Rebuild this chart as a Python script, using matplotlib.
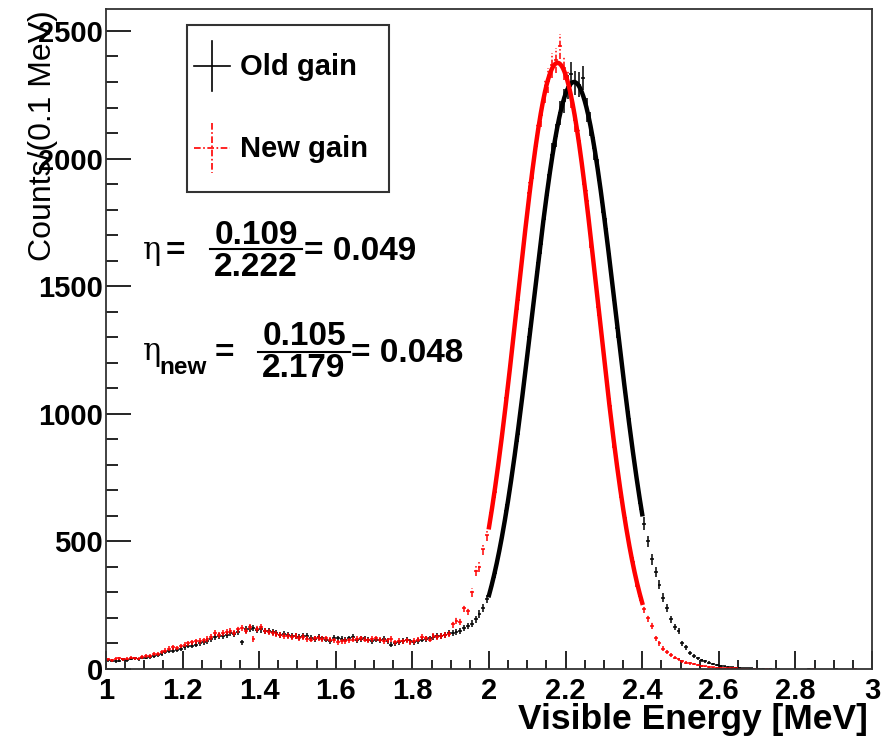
import numpy as np
import matplotlib
matplotlib.use("Agg")
import matplotlib.pyplot as plt
from matplotlib.lines import Line2D
from matplotlib.patches import Rectangle

# %% data: 200 bins of 0.01 MeV from 1 to 3 MeV
bin_lo, bin_w = 1.0, 0.01

old_counts = [
    35, 32, 30, 33, 38, 35, 40, 42, 38, 45,
    45, 48, 52, 55, 60, 65, 70, 72, 75, 80,
    85, 90, 92, 95, 100, 105, 110, 118, 125, 128,
    130, 135, 140, 138, 145, 105, 155, 158, 160, 152,
    155, 150, 148, 145, 140, 135, 138, 132, 130, 128,
    125, 128, 130, 122, 118, 125, 120, 115, 110, 122,
    120, 118, 115, 120, 125, 112, 118, 120, 115, 110,
    115, 112, 118, 110, 95, 100, 105, 110, 115, 108,
    105, 110, 115, 118, 120, 125, 128, 130, 135, 140,
    140, 145, 150, 160, 168, 178, 195, 215, 240, 275,
    320, 375, 455, 520, 620, 705, 820, 920, 1050, 1160,
    1300, 1415, 1555, 1665, 1800, 1895, 2015, 2090, 2180, 2225,
    2280, 2330, 2295, 2290, 2316, 2190, 2135, 2040, 1955, 1830,
    1725, 1590, 1480, 1335, 1225, 1085, 980, 850, 760, 650,
    570, 500, 430, 380, 330, 280, 240, 195, 165, 150,
    100, 85, 62, 52, 42, 35, 30, 25, 20, 15,
    12, 10, 8, 6, 5, 4, 3, 2, 2, 1,
    1, 1, 0, 1, 0, 1, 0, 0, 0, 0,
    0, 0, 0, 1, 0, 0, 0, 0, 0, 0,
    1, 0, 0, 0, 0, 0, 0, 0, 0, 0,
]

new_counts = [
    38, 35, 40, 42, 38, 40, 45, 42, 40, 48,
    50, 52, 58, 60, 68, 72, 80, 85, 82, 90,
    95, 100, 105, 108, 110, 112, 118, 125, 140, 135,
    142, 145, 150, 140, 155, 160, 150, 165, 117, 158,
    165, 150, 145, 140, 138, 135, 130, 128, 125, 130,
    122, 125, 118, 115, 120, 122, 118, 120, 115, 112,
    105, 108, 110, 112, 115, 118, 120, 115, 112, 118,
    120, 115, 110, 112, 118, 105, 110, 108, 112, 105,
    110, 115, 125, 120, 115, 130, 125, 128, 132, 138,
    175, 190, 185, 240, 228, 300, 385, 400, 470, 525,
    610, 695, 815, 920, 1060, 1175, 1325, 1445, 1600, 1715,
    1865, 1965, 2090, 2170, 2265, 2305, 2365, 2385, 2440, 2355,
    2300, 2245, 2150, 2070, 1940, 1835, 1690, 1570, 1420, 1295,
    1150, 1030, 895, 795, 675, 590, 490, 420, 340, 285,
    235, 200, 170, 120, 100, 80, 65, 55, 45, 38,
    30, 25, 22, 18, 14, 12, 10, 8, 6, 5,
    4, 3, 3, 2, 2, 1, 1, 1, 0, 1,
    0, 0, 1, 0, 0, 0, 0, 0, 0, 0,
    0, 0, 0, 0, 1, 0, 0, 0, 0, 0,
    0, 0, 0, 0, 0, 1, 0, 0, 0, 0,
]

# gaussian fit results (amplitude, mean, sigma), fit range 2.0 - 2.4 MeV
old_fit = (2300, 2.222, 0.109)
new_fit = (2375, 2.179, 0.105)
fit_range = (2.0, 2.4)

# %% figure
W, H = 885, 739
fig = plt.figure(figsize=(W / 100, H / 100), dpi=100)
ax = fig.add_axes([106 / W, 1 - 669 / H, 766 / W, 660 / H])

def px(x, y):
    return (x / W, 1 - y / H)

bold = dict(family="Liberation Sans", weight="bold")
dashdot = (0, (4, 1.5, 1, 1.5))

centers = bin_lo + bin_w * (np.arange(len(old_counts)) + 0.5)

def draw_hist(counts, color, ls, fit):
    c = np.array(counts, dtype=float)
    m = c > 0
    eb = ax.errorbar(centers[m], c[m], xerr=bin_w / 2, yerr=np.sqrt(c[m]),
                     fmt="none", ecolor=color, elinewidth=1.1, zorder=2)
    for lc in eb[2]:
        lc.set_linestyle(ls)
    amp, mu, sig = fit
    xf = np.linspace(fit_range[0], fit_range[1], 300)
    ax.plot(xf, amp * np.exp(-0.5 * ((xf - mu) / sig) ** 2), color=color,
            lw=3.2, zorder=3)

draw_hist(old_counts, "black", "-", old_fit)
draw_hist(new_counts, "red", dashdot, new_fit)

ax.set_xlim(1, 3)
ax.set_ylim(0, 2586)
ax.set_xticks(np.arange(1, 3.01, 0.2))
ax.set_xticklabels(["1", "1.2", "1.4", "1.6", "1.8", "2", "2.2", "2.4", "2.6", "2.8", "3"])
ax.set_xticks(np.arange(1, 3.001, 0.05), minor=True)
ax.set_yticks([0, 500, 1000, 1500, 2000, 2500])
ax.set_yticks(np.arange(0, 2586, 100), minor=True)
ax.tick_params(axis="x", which="major", direction="in", length=13, width=1.2, pad=6)
ax.tick_params(axis="x", which="minor", direction="in", length=6.5, width=1.2)
ax.tick_params(axis="y", which="major", direction="in", length=18, width=1.2, pad=2)
ax.tick_params(axis="y", which="minor", direction="in", length=8.6, width=1.2)
for lab in ax.get_xticklabels() + ax.get_yticklabels():
    lab.set_fontfamily("Liberation Sans")
    lab.set_fontweight("bold")
    lab.set_fontsize(21)
for s in ax.spines.values():
    s.set_linewidth(1.3)
    s.set_color("#333333")

# axis titles
fig.text(*px(868, 719), "Visible Energy [MeV]", ha="right", va="center",
         fontsize=25.5, **bold)
fig.text(*px(43, 10), "Counts/(0.1 MeV)", rotation=90, ha="center", va="top",
         fontsize=23, family="Liberation Sans")

# legend
fig.add_artist(Rectangle(px(187, 192), 202 / W, 167 / H, fill=False,
                         edgecolor="#333333", lw=1.5, transform=fig.transFigure))
for yc, col, ls, lab in [(66, "black", "-", "Old gain"), (148, "red", dashdot, "New gain")]:
    fig.add_artist(Line2D([212 / W, 212 / W], [1 - (yc - 25) / H, 1 - (yc + 25) / H],
                          color=col, lw=1.2, ls=ls, transform=fig.transFigure))
    fig.add_artist(Line2D([194 / W, 230 / W], [1 - yc / H, 1 - yc / H],
                          color=col, lw=1.2, ls=ls, transform=fig.transFigure))
    fig.text(*px(240, yc + 1), lab, ha="left", va="center", fontsize=21, **bold)

# resolution formulas
eta = dict(family="DejaVu Serif", fontsize=22)
fig.text(*px(143, 259), "\u03b7", ha="left", va="baseline", **eta)
fig.text(*px(166, 260), "=", ha="left", va="baseline", fontsize=24, **bold)
fig.text(*px(256, 244), "0.109", ha="center", va="baseline", fontsize=24, **bold)
fig.add_artist(Line2D([210 / W, 302 / W], [1 - 249 / H] * 2, color="black", lw=1.5,
                      transform=fig.transFigure))
fig.text(*px(256, 276), "2.222", ha="center", va="baseline", fontsize=24, **bold)
fig.text(*px(304, 260), "= 0.049", ha="left", va="baseline", fontsize=24, **bold)

fig.text(*px(143, 360), "\u03b7", ha="left", va="baseline", **eta)
fig.text(*px(159, 374), "new", ha="left", va="baseline", fontsize=17.5, **bold)
fig.text(*px(215, 362), "=", ha="left", va="baseline", fontsize=24, **bold)
fig.text(*px(304, 345), "0.105", ha="center", va="baseline", fontsize=24, **bold)
fig.add_artist(Line2D([258 / W, 350 / W], [1 - 352 / H] * 2, color="black", lw=1.5,
                      transform=fig.transFigure))
fig.text(*px(304, 377), "2.179", ha="center", va="baseline", fontsize=24, **bold)
fig.text(*px(351, 362), "= 0.048", ha="left", va="baseline", fontsize=24, **bold)

fig.savefig("out.png", dpi=100)
